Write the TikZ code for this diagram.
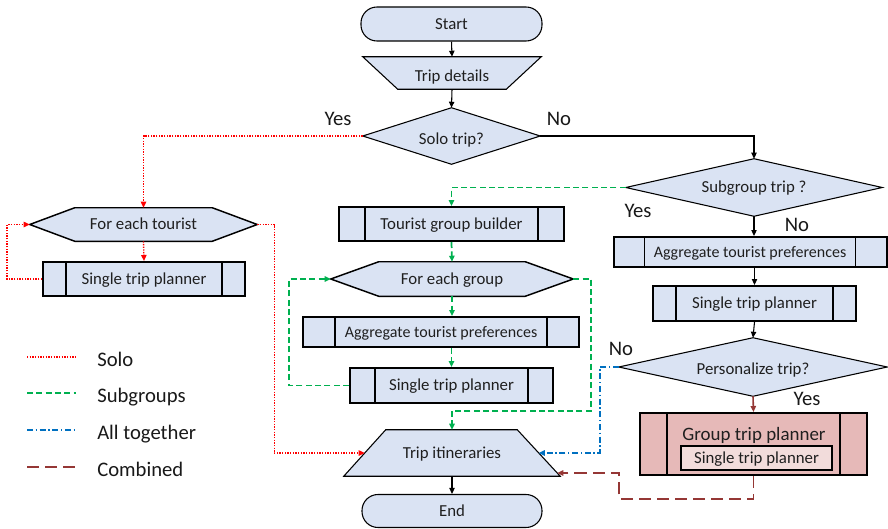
\documentclass[tikz,border=0pt]{standalone}
\usepackage{fontspec}
\setmainfont{Carlito}
\usetikzlibrary{arrows.meta,backgrounds,calc}
\definecolor{fillb}{HTML}{DAE3F3}
\definecolor{pinkb}{HTML}{E6B9B8}
\definecolor{pinkl}{HTML}{F2DCDB}
\definecolor{cred}{HTML}{FF0000}
\definecolor{cgreen}{HTML}{00B050}
\definecolor{cblue}{HTML}{0070C0}
\definecolor{cbrown}{HTML}{953735}
\def\px{*0.75pt}
\tikzset{
  lbl/.style={inner sep=0pt, text=black!88, text height=8.1pt, text depth=0pt, font=\fontsize{12.6}{14}\selectfont},
  big/.style={inner sep=0pt, text=black!90, text height=10pt, text depth=0pt, font=\fontsize{15.5}{17}\selectfont},
  term/.style={lbl, draw, line width=0.8pt, fill=fillb, rounded corners=16\px},
  shp/.style={lbl},
  proc/.style={lbl, draw, line width=1.5pt, fill=fillb},
  outl/.style={draw, line width=0.8pt, fill=fillb},
  hexl/.style={draw, line width=1.1pt, fill=fillb},
  tip/.style={-{Triangle[length=4.5pt,width=4pt]}},
  blk/.style={tip, line width=0.8pt, black},
  solo/.style={tip, line width=1pt, cred, dash pattern=on 1pt off 1pt},
  subg/.style={tip, line width=1.3pt, cgreen, dash pattern=on 4.5pt off 2.5pt},
  allt/.style={tip, line width=1.2pt, cblue, dash pattern=on 4.5pt off 2pt on 1pt off 2pt},
  comb/.style={tip, line width=1.2pt, cbrown, dash pattern=on 9pt off 4.5pt},
}
\newcommand\bands[2]{%
  \draw[line width=1pt] ([xshift=#2\px]#1.north west) -- ([xshift=#2\px]#1.south west);
  \draw[line width=1pt] ([xshift=-#2\px]#1.north east) -- ([xshift=-#2\px]#1.south east);}
\newcommand\hexa[2]{%
  \draw[hexl] (#1.west) -- ([xshift=#2\px]#1.north west) -- ([xshift=-#2\px]#1.north east) -- (#1.east) -- ([xshift=-#2\px]#1.south east) -- ([xshift=#2\px]#1.south west) -- cycle;}
\newcommand\diam[1]{%
  \draw[outl] (#1.west) -- (#1.north) -- (#1.east) -- (#1.south) -- cycle;}
\begin{document}
\begin{tikzpicture}[x=0.75pt,y=-0.75pt]
\useasboundingbox (0,0) rectangle (888,528);

% ---- nodes ----
\node[term, minimum width=181\px, minimum height=34\px] (start) at (451.5,24) {Start};
\node[shp, minimum width=178\px, minimum height=32\px] (det) at (452,73) {\raisebox{-2.25pt}{Trip details}};
\node[shp, minimum width=177\px, minimum height=56\px] (solo) at (451.5,136) {\raisebox{-2.25pt}{Solo trip?}};

\node[shp, minimum width=227\px, minimum height=33\px] (ft) at (143.5,224.5) {For each tourist};
\node[proc, minimum width=202\px, minimum height=34\px] (stp1) at (144,279) {Single trip planner};

\node[proc, minimum width=225\px, minimum height=34\px] (tgb) at (451.5,224) {Tourist group builder};
\node[shp, minimum width=242\px, minimum height=34\px] (fg) at (452,279) {For each group};
\node[proc, minimum width=276\px, minimum height=30\px, text height=7.7pt, font=\fontsize{12}{14}\selectfont] (agg1) at (441,332) {Aggregate tourist preferences};
\node[proc, minimum width=203\px, minimum height=35\px] (stp2) at (451.5,385.5) {Single trip planner};

\node[shp, minimum width=256\px, minimum height=57\px] (sub) at (754,187.5) {Subgroup trip ?};
\node[proc, minimum width=273\px, minimum height=30\px, text height=7.7pt, font=\fontsize{12}{14}\selectfont] (agg2) at (750,252) {Aggregate tourist preferences};
\node[proc, minimum width=203\px, minimum height=35\px] (stp3) at (754.5,303.5) {Single trip planner};
\node[shp, minimum width=268\px, minimum height=58\px] (pers) at (753,367) {\raisebox{-1.5pt}{Personalize trip?}};
\node[proc, fill=pinkb, minimum width=227\px, minimum height=62\px] (gtp) at (753.5,444) {};
\node[lbl, text height=9.1pt, font=\fontsize{14.2}{16}\selectfont] (gtpt) at (754,434) {Group trip planner};
\node[lbl, draw, line width=1.5pt, fill=pinkl, minimum width=151\px, minimum height=24\px] (gin) at (756.5,458) {Single trip planner};

\node[shp, minimum width=216\px, minimum height=46\px] (itin) at (452,453) {Trip itineraries};
\node[term, minimum width=180\px, minimum height=33\px] (end) at (452,511) {End};

\bands{stp1}{24}
\bands{tgb}{27}
\bands{agg1}{33}
\bands{stp2}{26}
\bands{agg2}{32}
\bands{stp3}{24}
\bands{gtp}{28}

% ---- background shapes ----
\begin{pgfonlayer}{background}
  \draw[outl] (det.north west) -- (det.north east) -- ([xshift=-35\px]det.south east) -- ([xshift=35\px]det.south west) -- cycle;
  \diam{solo}
  \diam{sub}
  \diam{pers}
  \hexa{ft}{45}
  \hexa{fg}{48}
  \draw[outl] (itin.south west) -- (itin.south east) -- ([xshift=-43\px]itin.north east) -- ([xshift=42\px]itin.north west) -- cycle;
\end{pgfonlayer}

\coordinate (itinL) at ($(itin.south west)!0.5!([xshift=42\px]itin.north west)$);
\coordinate (itinR) at ($(itin.south east)!0.5!([xshift=-43\px]itin.north east)$);
\coordinate (itinBR) at ($(itin.south east)!0.07!([xshift=-43\px]itin.north east)$);

% ---- black connectors ----
\draw[blk] (start.south) -- (det.north);
\draw[blk] (det.south) -- (solo.north);
\draw[blk] (solo.east) -| (sub.north);
\draw[blk] (sub.south) -- (sub.south |- agg2.north);
\draw[blk] (stp3.north |- agg2.south) -- (stp3.north);
\draw[blk] (stp3.south) -- (pers.north);
\draw[blk] (itin.south) -- (end.north);

% ---- solo (red dotted) ----
\draw[solo] (solo.west) -| (ft.north);
\draw[solo] (ft.south) -- (stp1.north);
\draw[solo] (stp1.west) -- ++(-35,0) |- (ft.west);
\draw[solo] (ft.east) -- ++(17,0) |- (itinL);

% ---- subgroups (green dashed) ----
\draw[subg] (sub.west) -| (tgb.north);
\draw[subg] (tgb.south) -- (fg.north);
\draw[subg] (fg.south) -- (fg.south |- agg1.north);
\draw[subg] (stp2.north |- agg1.south) -- (stp2.north);
\draw[subg] (stp2.west) -- ++(-60,0) |- (fg.west);
\coordinate (gj) at ($(itin.north)+(0,-19)$);
\draw[subg] (fg.east) -- ++(18,0) |- (gj) -- (itin.north);

% ---- all together (blue dash-dot) ----
\draw[allt] (pers.west) -- ++(-19,0) |- (itinR);

% ---- combined (brown) ----
\draw[comb] (pers.south) -- (gtp.north);
\coordinate (cb) at ($(itinBR)+(62,0)$);
\draw[comb] (gtp.south) -- ++(0,23) -| (cb) -- (itinBR);

% ---- labels ----
\node[big] (ly1) at (338,119) {Yes};
\node[big] (ln1) at (559,119) {No};
\node[big] (ly2) at (638,211) {Yes};
\node[big] (ln2) at (797,224.5) {No};
\node[big] (ln3) at (621,349) {No};
\node[big] (ly3) at (807,398.5) {Yes};

% ---- legend ----
\coordinate (l1a) at (27,357); \coordinate (l1b) at (76,357);
\coordinate (l2a) at (27,393); \coordinate (l2b) at (76,393);
\coordinate (l3a) at (27,430); \coordinate (l3b) at (76,430);
\coordinate (l4a) at (27,467); \coordinate (l4b) at (76,467);
\draw[line width=1pt, cred, dash pattern=on 1pt off 1pt] (l1a) -- (l1b);
\draw[line width=1.3pt, cgreen, dash pattern=on 4.5pt off 2.5pt] (l2a) -- (l2b);
\draw[line width=1.2pt, cblue, dash pattern=on 4.5pt off 2pt on 1pt off 2pt] (l3a) -- (l3b);
\draw[line width=1.2pt, cbrown, dash pattern=on 9pt off 4.5pt] (l4a) -- (l4b);
\node[big, anchor=west] (t1) at (97,359.5) {Solo};
\node[big, anchor=west] (t2) at (97,396) {Subgroups};
\node[big, anchor=west] (t3) at (97,433) {All together};
\node[big, anchor=west] (t4) at (97,470) {Combined};
\end{tikzpicture}
\end{document}
